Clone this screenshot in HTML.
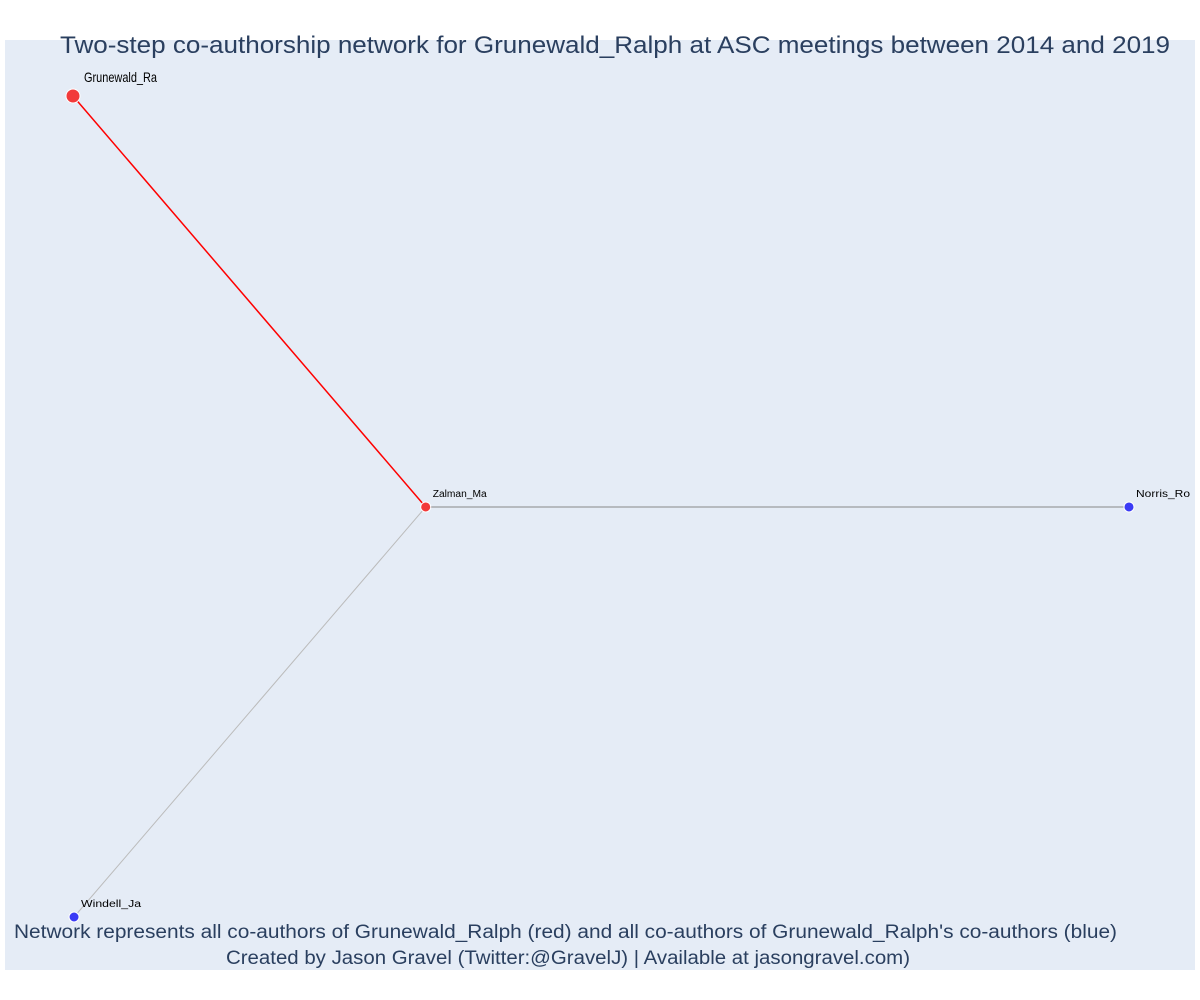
<!DOCTYPE html>
<html><head><meta charset="utf-8"><style>html,body{margin:0;padding:0;background:#fff}svg{display:block}</style></head>
<body>
<svg width="1200" height="1000" xmlns="http://www.w3.org/2000/svg" font-family="'Liberation Sans', sans-serif">
<rect x="5" y="40" width="1190" height="930" fill="#e5ecf6"/>
<text x="60" y="53" font-size="24" fill="#2a3f5f" textLength="1110" lengthAdjust="spacingAndGlyphs">Two-step co-authorship network for Grunewald_Ralph at ASC meetings between 2014 and 2019</text>
<g id="edges"></g>
<g id="nodes"></g>
<text x="14" y="938" font-size="19" fill="#2a3f5f" textLength="1103" lengthAdjust="spacingAndGlyphs">Network represents all co-authors of Grunewald_Ralph (red) and all co-authors of Grunewald_Ralph's co-authors (blue)</text>
<text x="226" y="964" font-size="19" fill="#2a3f5f" textLength="684" lengthAdjust="spacingAndGlyphs">Created by Jason Gravel (Twitter:@GravelJ) | Available at jasongravel.com)</text>
</svg>
<script>
const nodeNames = ["Grunewald_Ra","Zalman_Ma","Norris_Ro","Windell_Ja"];
const nodeX = [0, 0.334, 1, 0.001];
const nodeY = [1, 0.4994, 0.4994, 0];
const nodeGroup = ["ego","red","blue","blue"];
const edgeFrom = [0, 1, 1];
const edgeTo = [1, 2, 3];
const edgeColor = ["#ff0000","#888888","#bbbbbb"];
const NS="http://www.w3.org/2000/svg";
function sx(v){return 73+v*1056;}
function sy(v){return 917-v*821;}
const eg=document.getElementById('edges'), ng=document.getElementById('nodes');
edgeFrom.forEach((f,i)=>{
  const l=document.createElementNS(NS,'line');
  l.setAttribute('x1',sx(nodeX[f]));l.setAttribute('y1',sy(nodeY[f]));
  l.setAttribute('x2',sx(nodeX[edgeTo[i]]));l.setAttribute('y2',sy(nodeY[edgeTo[i]]));
  l.setAttribute('stroke',edgeColor[i]);l.setAttribute('stroke-width',i===0?1.5:1);
  
  
  eg.appendChild(l);
});
nodeNames.forEach((n,i)=>{
  const c=document.createElementNS(NS,'circle');
  const ego=nodeGroup[i]==="ego";
  c.setAttribute('cx',sx(nodeX[i]));c.setAttribute('cy',sy(nodeY[i]));
  c.setAttribute('r',ego?7:5);
  c.setAttribute('fill',nodeGroup[i]==="blue"?"#3b3bf5":"#f23a3a");
  c.setAttribute('stroke','#fff');c.setAttribute('stroke-width',1);
  
  
  ng.appendChild(c);
  const t=document.createElementNS(NS,'text');
  t.setAttribute('x',sx(nodeX[i])+(ego?11:7));
  t.setAttribute('y',sy(nodeY[i])-(ego?14:10));
  t.setAttribute('font-size',ego?14:10);
  t.setAttribute('textLength',ego?73:(n.length*6));
  t.setAttribute('lengthAdjust','spacingAndGlyphs');
  t.setAttribute('fill','#000');
  t.textContent=n;
  
  
  ng.appendChild(t);
});
</script>
</body></html>
